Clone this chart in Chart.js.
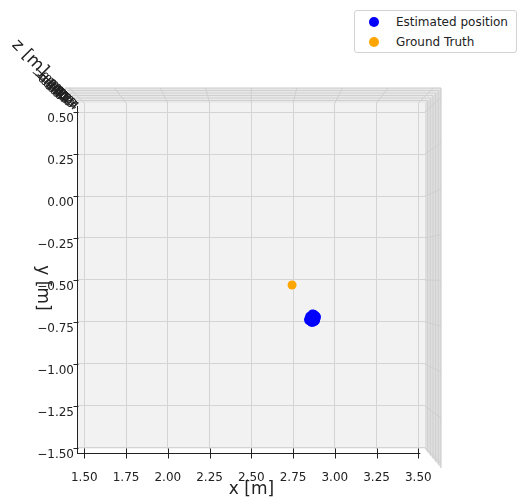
<!DOCTYPE html>
<html><head><meta charset="utf-8">
<script src="https://cdn.jsdelivr.net/npm/chart.js@4/dist/chart.umd.min.js"></script>
<style>
html,body{margin:0;padding:0;background:#fff;}
#wrap{position:relative;width:519px;height:500px;}
#legend{position:absolute;left:354px;top:10px;width:161px;height:41px;border:1px solid #d3d3d3;border-radius:3px;background:#fff;font-family:'DejaVu Sans';font-size:12px;color:#222;}
.row{position:absolute;left:0;height:16px;line-height:16px;}
.dot{position:absolute;left:14px;top:3px;width:10px;height:10px;border-radius:50%;}
.txt{position:absolute;left:41px;top:0;white-space:nowrap;}
</style></head>
<body><div id="wrap"><canvas id="c" width="519" height="500"></canvas><div id="legend"></div></div>
<script>
// ---- data ----
const seriesNames = ['Estimated position', 'Ground Truth'];
const seriesColors = ['#0000ff', '#ffa500'];
const estX = [2.850,2.862,2.874,2.884,2.888,2.852,2.866,2.878,2.845,2.858,2.870,2.886,2.864,2.876,2.848,2.880,2.869,2.856,2.890,2.843,2.866,2.882,2.860,2.884];
const estY = [-0.716,-0.708,-0.704,-0.712,-0.724,-0.732,-0.728,-0.738,-0.742,-0.748,-0.744,-0.734,-0.718,-0.720,-0.726,-0.746,-0.752,-0.738,-0.718,-0.734,-0.702,-0.728,-0.752,-0.742];
const gtX = [2.744];
const gtY = [-0.530];
const xTicks = [1.50,1.75,2.00,2.25,2.50,2.75,3.00,3.25,3.50];
const yTicks = [0.50,0.25,0.00,-0.25,-0.50,-0.75,-1.00,-1.25,-1.50];
const zTickLabels = ['−0.04','−0.03','−0.02','−0.01','0.00','0.01','0.02','0.03','0.04'];
const xTitle = 'x [m]', yTitle = 'y [m]', zTitle = 'z [m]';

const fmt = v => (v < 0 ? '\u2212' : '') + Math.abs(v).toFixed(2);
const FONT = 'DejaVu Sans';

const lg = document.getElementById('legend');
seriesNames.forEach((n,i)=>{
  const r = document.createElement('div'); r.className='row'; r.style.top=(i===0?3:23)+'px'; r.style.width='100%';
  r.innerHTML = '<span class="dot" style="background:'+seriesColors[i]+'"></span><span class="txt">'+n+'</span>';
  lg.appendChild(r);
});

const panePlugin = {
  id:'pane',
  beforeDraw(chart){
    const {ctx, chartArea:a} = chart;
    const cx=(a.left+a.right)/2, cy=(a.top+a.bottom)/2, k=0.09, d=15;
    ctx.save();
    ctx.fillStyle='#e9e9e9';
    ctx.beginPath();
    ctx.moveTo(a.left,a.top); ctx.lineTo(a.left-13,a.top-d); ctx.lineTo(a.right+16,a.top-d); ctx.lineTo(a.right,a.top); ctx.closePath(); ctx.fill();
    ctx.fillStyle='#dedede';
    ctx.beginPath();
    ctx.moveTo(a.right,a.top); ctx.lineTo(a.right+16,a.top-d); ctx.lineTo(a.right+16,a.bottom+19); ctx.lineTo(a.right,a.bottom); ctx.closePath(); ctx.fill();
    ctx.strokeStyle='#cfcfcf'; ctx.lineWidth=1;
    const xs=chart.scales.x, ys=chart.scales.y;
    xTicks.forEach(v=>{const p=xs.getPixelForValue(v); ctx.beginPath(); ctx.moveTo(p,a.top); ctx.lineTo(p+(p-cx)*k,a.top-d); ctx.stroke();});
    yTicks.forEach(v=>{const p=ys.getPixelForValue(v); ctx.beginPath(); ctx.moveTo(a.right,p); ctx.lineTo(a.right+16,p+(p-cy)*k); ctx.stroke();});
    for(let i=1;i<=5;i++){
      const t=i/6;
      ctx.beginPath(); ctx.moveTo(a.left-13*t,a.top-d*t); ctx.lineTo(a.right+16*t,a.top-d*t); ctx.stroke();
      ctx.beginPath(); ctx.moveTo(a.right+16*t,a.top-d*t); ctx.lineTo(a.right+16*t,a.bottom+19*t); ctx.stroke();
    }
    ctx.strokeStyle='#c8c8c8';
    ctx.beginPath(); ctx.moveTo(a.left-13,a.top-d); ctx.lineTo(a.right+16,a.top-d); ctx.lineTo(a.right+16,a.bottom+19); ctx.stroke();
    ctx.fillStyle='#f2f2f2';
    ctx.fillRect(a.left,a.top,a.right-a.left,a.bottom-a.top);
    ctx.restore();
  },
  afterDraw(chart){
    const {ctx, chartArea:a} = chart;
    const xs=chart.scales.x, ys=chart.scales.y;
    ctx.save();
    ctx.strokeStyle='#222'; ctx.lineWidth=1;
    const yb=a.bottom+4.5;
    ctx.beginPath(); ctx.moveTo(a.left,yb); ctx.lineTo(xs.getPixelForValue(3.5)+2,yb); ctx.stroke();
    xTicks.forEach(v=>{const p=Math.round(xs.getPixelForValue(v))+0.5; ctx.beginPath(); ctx.moveTo(p,yb-5); ctx.lineTo(p,yb+5); ctx.stroke();});
    const xl=a.left-0.5;
    ctx.beginPath(); ctx.moveTo(xl,a.top+3); ctx.lineTo(xl,a.bottom+5); ctx.stroke();
    yTicks.forEach(v=>{const p=Math.round(ys.getPixelForValue(v))+0.5; ctx.beginPath(); ctx.moveTo(xl-4,p); ctx.lineTo(xl+1,p); ctx.stroke();});
    ctx.beginPath(); ctx.moveTo(a.left-16,a.top-16); ctx.lineTo(a.left,a.top); ctx.stroke();
    ctx.fillStyle='#222';
    ctx.font='17px "'+FONT+'"'; ctx.textAlign='center'; ctx.textBaseline='middle';
    ctx.save(); ctx.translate(42,288); ctx.rotate(Math.PI/2); ctx.fillText(yTitle,0,0); ctx.restore();
    ctx.save(); ctx.translate(30,58); ctx.rotate(Math.PI/4); ctx.fillText(zTitle,0,0); ctx.restore();
    ctx.font='11px "'+FONT+'"';
    zTickLabels.forEach((t,i)=>{
      ctx.save(); ctx.translate(47+i*2.6,80+i*2.4); ctx.rotate(Math.PI/4); ctx.fillText(t,0,0); ctx.restore();
      ctx.save(); ctx.translate(45+i*2.6,82+i*2.4); ctx.rotate(Math.PI/5); ctx.fillText(t,0,0); ctx.restore();
    });
    ctx.restore();
  }
};

new Chart(document.getElementById('c'), {
  type:'scatter',
  data:{datasets:[
    {label:seriesNames[0], data:estX.map((x,i)=>({x, y:estY[i]})), backgroundColor:seriesColors[0], borderWidth:0, pointRadius:4.5},
    {label:seriesNames[1], data:gtX.map((x,i)=>({x, y:gtY[i]})), backgroundColor:seriesColors[1], borderWidth:0, pointRadius:4.5}
  ]},
  options:{
    responsive:false, animation:false, devicePixelRatio:1,
    layout:{padding:{top:103,right:94,left:0,bottom:0}},
    plugins:{legend:{display:false}, tooltip:{enabled:false}},
    scales:{
      x:{type:'linear', min:1.4623, max:3.540,
        afterBuildTicks:s=>{s.ticks=xTicks.map(v=>({value:v}));},
        afterFit:s=>{s.height=51;},
        grid:{color:'#d4d4d4', drawTicks:false}, border:{display:false},
        ticks:{callback:v=>fmt(v), padding:22, maxRotation:0, autoSkip:false, color:'#222', font:{family:FONT,size:12}},
        title:{display:true, text:xTitle, color:'#222', font:{family:FONT,size:17}, padding:{top:0,bottom:0}}
      },
      y:{type:'linear', min:-1.506, max:0.5536,
        afterBuildTicks:s=>{s.ticks=yTicks.map(v=>({value:v}));},
        afterFit:s=>{s.width=78;},
        grid:{color:'#d4d4d4', drawTicks:false}, border:{display:false},
        ticks:{callback:v=>fmt(v), padding:4, labelOffset:7, autoSkip:false, color:'#222', font:{family:FONT,size:12}}
      }
    }
  },
  plugins:[panePlugin]
});
</script></body></html>
